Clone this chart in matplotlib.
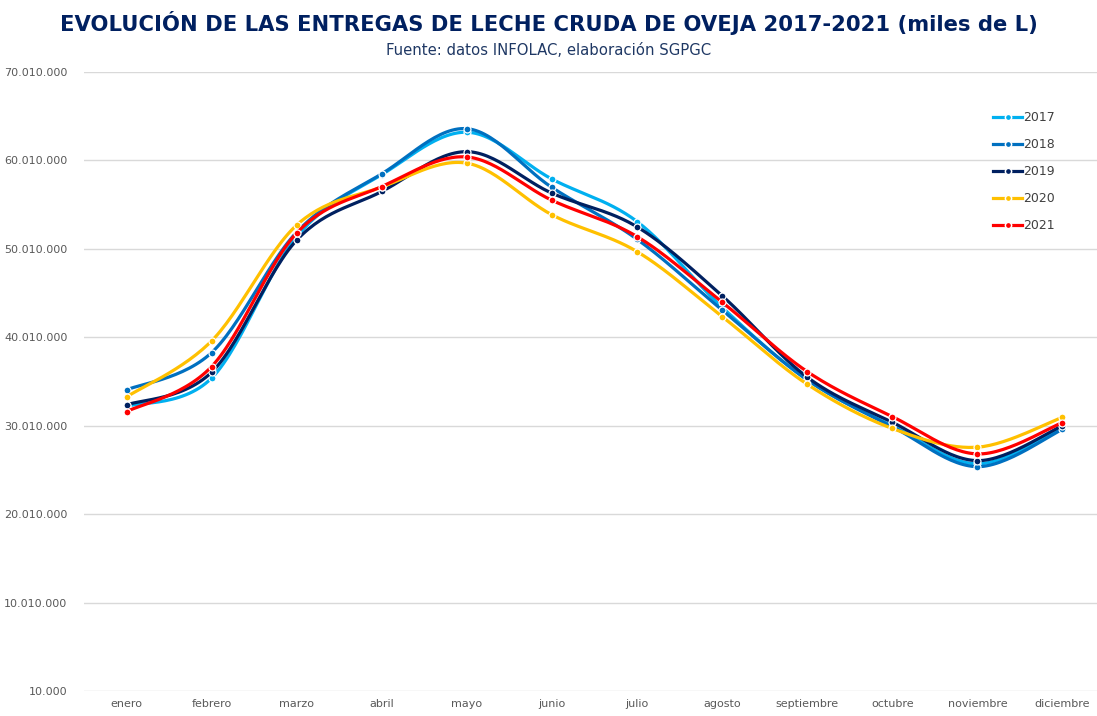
""" Evolución de las entregas de leche cruda de oveja 2017-2021
    (datos INFOLAC) - recreación del gráfico de líneas suavizadas"""

import numpy as np
import matplotlib
matplotlib.use('Agg')
from matplotlib import pyplot as plt
from matplotlib.ticker import FuncFormatter

MESES = ['enero', 'febrero', 'marzo', 'abril', 'mayo', 'junio', 'julio',
         'agosto', 'septiembre', 'octubre', 'noviembre', 'diciembre']

# Entregas mensuales (L)
Y2017 = [32200000, 35400000, 51400000, 58400000, 63200000, 57900000,
         53100000, 43400000, 35200000, 30000000, 25700000, 29800000]
Y2018 = [34060000, 38280000, 51900000, 58500000, 63600000, 56950000,
         51100000, 43100000, 35200000, 29900000, 25380000, 29600000]
Y2019 = [32360000, 36060000, 51000000, 56500000, 61000000, 56300000,
         52500000, 44700000, 35500000, 30400000, 26060000, 30000000]
Y2020 = [33270000, 39600000, 52700000, 57000000, 59700000, 53860000,
         49700000, 42350000, 34700000, 29700000, 27580000, 30970000]
Y2021 = [31600000, 36700000, 51800000, 57060000, 60400000, 55500000,
         51400000, 43980000, 36130000, 31040000, 26820000, 30360000]

SERIES = [('2017', Y2017, '#00B0F0'),
          ('2018', Y2018, '#0070C0'),
          ('2019', Y2019, '#002060'),
          ('2020', Y2020, '#FFC000'),
          ('2021', Y2021, '#FF0000')]

Y_TICKS = [10000, 10010000, 20010000, 30010000, 40010000,
           50010000, 60010000, 70010000]

TITLE = 'EVOLUCIÓN DE LAS ENTREGAS DE LECHE CRUDA DE OVEJA 2017-2021 (miles de L)'
SUBTITLE = 'Fuente: datos INFOLAC, elaboración SGPGC'


def smooth(x, y, steps=30, tension=1 / 6):
    """ Bezier suavizado al estilo Excel (Catmull-Rom). """
    x = np.asarray(x, float)
    y = np.asarray(y, float)
    px = np.concatenate([[x[0]], x, [x[-1]]])
    py = np.concatenate([[y[0]], y, [y[-1]]])
    out_x, out_y = [], []
    t = np.linspace(0, 1, steps)
    for i in range(1, len(px) - 2):
        p0 = np.array([px[i], py[i]])
        p3 = np.array([px[i + 1], py[i + 1]])
        c1 = p0 + tension * (np.array([px[i + 1], py[i + 1]]) - np.array([px[i - 1], py[i - 1]]))
        c2 = p3 - tension * (np.array([px[i + 2], py[i + 2]]) - np.array([px[i], py[i]]))
        b = ((1 - t) ** 3)[:, None] * p0 + (3 * (1 - t) ** 2 * t)[:, None] * c1 \
            + (3 * (1 - t) * t ** 2)[:, None] * c2 + (t ** 3)[:, None] * p3
        out_x.extend(b[:, 0])
        out_y.extend(b[:, 1])
    return out_x, out_y


def miles(v, pos):
    return f'{int(round(v)):,}'.replace(',', '.')


def fit_width(fig, txt, width_px):
    """ Ajusta el tamaño de letra para que el texto ocupe width_px. """
    r = fig.canvas.get_renderer()
    w = txt.get_window_extent(renderer=r).width
    txt.set_fontsize(txt.get_fontsize() * width_px / w)


fig = plt.figure(figsize=(10.97, 7.16), dpi=100)
ax = fig.add_axes([84 / 1097, 25 / 716, (1105 - 84) / 1097, 619 / 716])

xs = np.arange(len(MESES))
for name, vals, color in SERIES:
    sx, sy = smooth(xs, vals)
    ax.plot(sx, sy, color=color, lw=2.3, solid_capstyle='round')
    ax.plot(xs, vals, ls='none', marker='o', ms=5, color=color,
            mec='white', mew=0.9)
    # entrada de leyenda
    ax.plot([], [], color=color, lw=2.3, marker='o', ms=4.5, mec='white',
            mew=1.1, label=name)

ax.set_xlim(-0.5, len(MESES) - 0.5)
ax.set_ylim(Y_TICKS[0], Y_TICKS[-1])
ax.set_yticks(Y_TICKS)
ax.yaxis.set_major_formatter(FuncFormatter(miles))
ax.set_xticks(xs)
ax.set_xticklabels(MESES)
ax.grid(axis='y', color='#D9D9D9', lw=1)
ax.set_axisbelow(True)
for s in ax.spines.values():
    s.set_visible(False)
ax.tick_params(length=0, labelsize=8, labelcolor='#595959')
ax.tick_params(axis='y', pad=12)
ax.tick_params(axis='x', pad=6)

leg = ax.legend(loc='upper left', bbox_to_anchor=(898 / 1021, 0.955),
                frameon=False, fontsize=9, labelcolor='#404040',
                handlelength=2.3, handletextpad=0.1, labelspacing=1.12)

t1 = fig.text(0.5, 0.968, TITLE, ha='center', va='center', fontsize=19,
              fontweight='bold', color='#002060',
              family=['DejaVu Sans Condensed', 'Liberation Sans Narrow', 'DejaVu Sans'])
t2 = fig.text(0.5, 0.93, SUBTITLE, ha='center', va='center', fontsize=11,
              color='#1F3864',
              family=['DejaVu Sans Condensed', 'Liberation Sans Narrow', 'DejaVu Sans'])
fit_width(fig, t1, 972)
fit_width(fig, t2, 325)

fig.savefig('out.png', dpi=100)
